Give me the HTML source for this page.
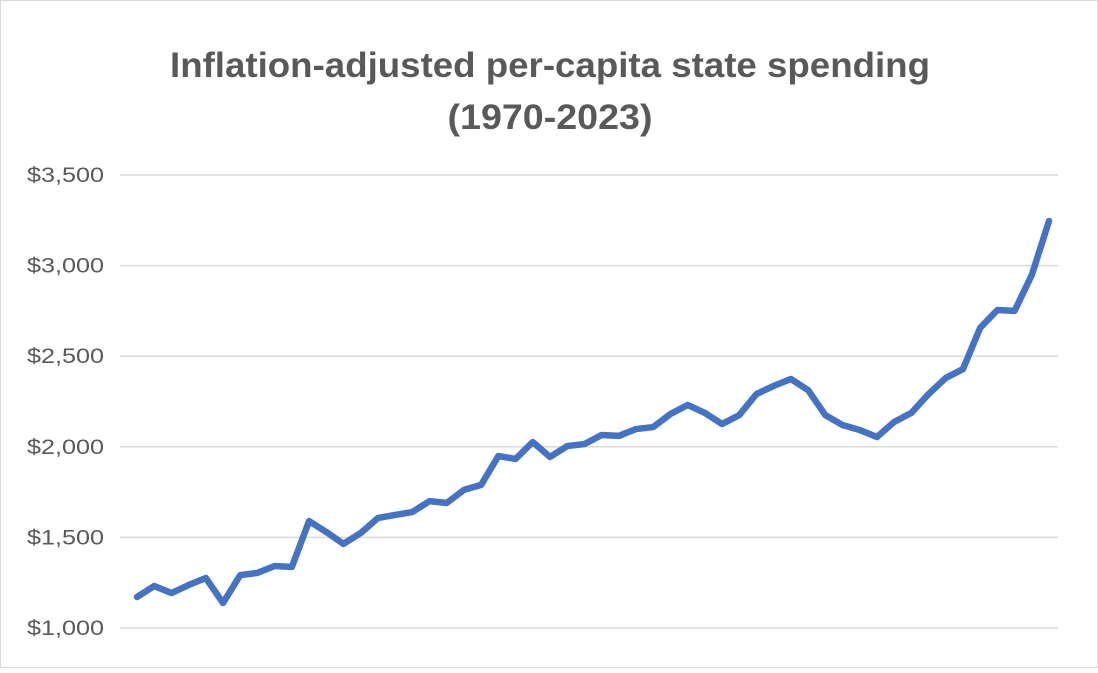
<!DOCTYPE html>
<html><head><meta charset="utf-8"><style>
body{margin:0;background:#fff;}
#c{position:relative;width:1098px;height:668px;font-family:"Liberation Sans",sans-serif;}
</style></head><body>
<div id="c">
<svg id="s" width="1098" height="668">
<rect x="0.5" y="0.5" width="1097" height="667" fill="#fff" stroke="#d9d9d9"/>
<text x="550" y="77" text-anchor="middle" font-size="35" font-weight="bold" fill="#595959" textLength="760" lengthAdjust="spacingAndGlyphs">Inflation-adjusted per-capita state spending</text>
<text x="550" y="129" text-anchor="middle" font-size="35" font-weight="bold" fill="#595959" textLength="205" lengthAdjust="spacingAndGlyphs">(1970-2023)</text>
<g id="grid"></g><g id="ylab"></g><g id="series"></g>
</svg>
</div>
<script>
const years=[];for(let y=1970;y<=2023;y++)years.push(y);
const spending=[1171,1232,1193,1237,1276,1138,1292,1304,1342,1337,1590,1530,1464,1524,1607,1624,1640,1700,1690,1762,1790,1949,1933,2026,1944,2004,2015,2065,2060,2098,2109,2181,2231,2187,2126,2175,2291,2336,2374,2313,2175,2120,2093,2054,2137,2187,2291,2380,2429,2656,2755,2750,2948,3246];
const yTicks=[1000,1500,2000,2500,3000,3500];
const yTickLabels=["$1,000","$1,500","$2,000","$2,500","$3,000","$3,500"];
const NS="http://www.w3.org/2000/svg";
const yScale=v=>628-(v-1000)/500*90.6;
const xScale=i=>137+i*(1049-137)/(years.length-1);
const grid=document.getElementById('grid'),ylab=document.getElementById('ylab'),ser=document.getElementById('series');
yTicks.forEach((t,i)=>{
 const l=document.createElementNS(NS,'line');
 l.setAttribute('x1',120);l.setAttribute('x2',1058);
 l.setAttribute('y1',yScale(t));l.setAttribute('y2',yScale(t));
 l.setAttribute('stroke','#d9d9d9');l.setAttribute('stroke-width','1.5');
 
 
 grid.appendChild(l);
 const tx=document.createElementNS(NS,'text');
 tx.setAttribute('x',104);tx.setAttribute('y',yScale(t)+7);
 tx.setAttribute('text-anchor','end');tx.setAttribute('font-size','21');tx.setAttribute('fill','#595959');
 tx.setAttribute('textLength','77');tx.setAttribute('lengthAdjust','spacingAndGlyphs');
 tx.textContent=yTickLabels[i];
 
 
 ylab.appendChild(tx);
});
const p=document.createElementNS(NS,'polyline');
p.setAttribute('points',spending.map((v,i)=>xScale(i)+','+yScale(v)).join(' '));
p.setAttribute('fill','none');p.setAttribute('stroke','#4472c4');p.setAttribute('stroke-width','6.5');
p.setAttribute('stroke-linejoin','round');p.setAttribute('stroke-linecap','round');


ser.appendChild(p);
</script>
</body></html>
